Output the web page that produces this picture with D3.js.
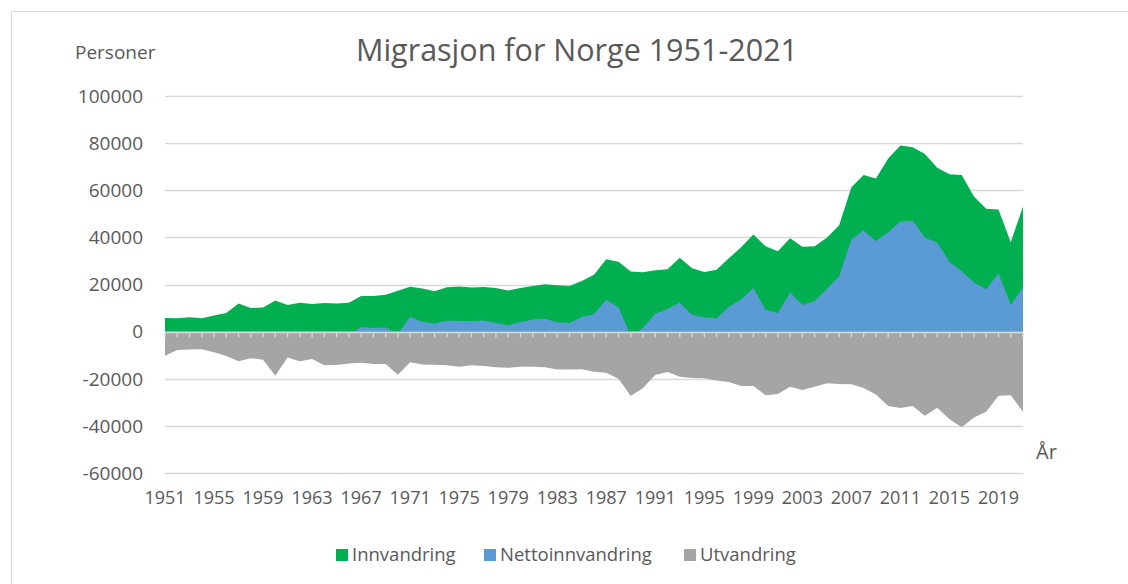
<!DOCTYPE html>
<html>
<head>
<meta charset="utf-8">
<script src="https://cdn.jsdelivr.net/npm/d3@7"></script>
<style>
  body { margin: 0; background: #fff; }
  svg { display: block; font-family: "Open Sans", sans-serif; }
</style>
</head>
<body>
<div id="chart"></div>
<script>
// Migrasjon for Norge 1951-2021

const years = d3.range(1951, 2022);

const innvandring = [
  5800, 5650, 6100, 5650, 6800, 7900, 11900, 10000, 10200, 13200,
  11300, 12300, 11700, 12200, 11900, 12300, 15100, 15100, 15600, 17300,
  19000, 18300, 17100, 18800, 19100, 18700, 18900, 18500, 17500, 18500,
  19400, 20100, 19700, 19400, 21500, 24100, 30700, 29700, 25500, 25200,
  26000, 26500, 31300, 26900, 25300, 26300, 31100, 35800, 41200, 36200,
  34100, 39600, 36000, 36200, 39800, 45100, 61300, 66500, 65000, 73500,
  79000, 78300, 75400, 69600, 66800, 66500, 57300, 52200, 51800, 37900,
  53100
];

const nettoinnvandring = [
  -4400, -2100, -1500, -1800, -2000, -2400, -700, -1300, -1700, -5500,
  300, -300, 100, -2100, -2300, -1200, 2000, 1500, 1700, -1000,
  6200, 4200, 3300, 4700, 4500, 4500, 4700, 3700, 2700, 4000,
  5100, 5500, 4000, 3700, 6200, 7400, 13500, 10200, -1800, 1600,
  7600, 9600, 12300, 7200, 6150, 5700, 10600, 13600, 18500, 9300,
  7900, 16600, 11300, 13000, 18100, 23500, 39200, 42900, 38500, 42200,
  46700, 47100, 39800, 37800, 29600, 25600, 20900, 18000, 24800, 11300,
  18800
];

const utvandring = [
  -10200, -7800, -7600, -7500, -8800, -10300, -12600, -11300, -11900, -18700,
  -11000, -12600, -11600, -14300, -14200, -13500, -13200, -13700, -13700, -18300,
  -13000, -14000, -14100, -14300, -14900, -14300, -14600, -15100, -15300, -14900,
  -14900, -15100, -16100, -16100, -16000, -17000, -17500, -20000, -27300, -23900,
  -18400, -17100, -19200, -19700, -19750, -20700, -21400, -23100, -23100, -27000,
  -26500, -23400, -24800, -23400, -21900, -22200, -22300, -23900, -26700, -31600,
  -32400, -31600, -35700, -32300, -37200, -40600, -36400, -34000, -27200, -27000,
  -34000
];

const yTicks = [-60000, -40000, -20000, 0, 20000, 40000, 60000, 80000, 100000];
const xLabelYears = d3.range(1951, 2022, 4);

const seriesNames = ['Innvandring', 'Nettoinnvandring', 'Utvandring'];
const seriesColors = ['#00b050', '#5b9bd5', '#a5a5a5'];

const W = 1128, H = 584;
const plot = { left: 165, right: 1023, top: 96, bottom: 473 };
const textColor = '#595959';
const gridColor = '#d9d9d9';

const svg = d3.select('#chart').append('svg')
  .attr('width', W)
  .attr('height', H);

// chart frame
svg.append('rect')
  .attr('x', 11.5).attr('y', 11.5)
  .attr('width', W).attr('height', H)
  .attr('fill', 'none')
  .attr('stroke', gridColor);

const x = d3.scaleLinear().domain([1951, 2021]).range([plot.left, plot.right]);
const y = d3.scaleLinear().domain([-60000, 100000]).range([plot.bottom, plot.top]);

// grid lines
svg.append('g')
  .selectAll('line')
  .data(yTicks.filter(d => d !== 0))
  .enter()
  .append('line')
  .attr('x1', plot.left).attr('x2', plot.right)
  .attr('y1', d => Math.round(y(d)) + 0.5)
  .attr('y2', d => Math.round(y(d)) + 0.5)
  .attr('stroke', gridColor)
  .attr('stroke-width', 1.3);

// overlapping areas, drawn in series order
const seriesData = [innvandring, nettoinnvandring, utvandring];
seriesData.forEach((vals, i) => {
  const area = d3.area()
    .x((d, j) => x(years[j]))
    .y0(y(0))
    .y1(d => y(d));
  svg.append('path')
    .datum(vals)
    .attr('d', area)
    .attr('fill', seriesColors[i]);
});

// zero axis with year ticks
const zeroY = Math.round(y(0)) + 0.5;
svg.append('line')
  .attr('x1', plot.left).attr('x2', plot.right)
  .attr('y1', zeroY).attr('y2', zeroY)
  .attr('stroke', gridColor)
  .attr('stroke-width', 1.3);

svg.append('g')
  .selectAll('line')
  .data(years)
  .enter()
  .append('line')
  .attr('x1', d => x(d)).attr('x2', d => x(d))
  .attr('y1', zeroY).attr('y2', zeroY + 5)
  .attr('stroke', gridColor)
  .attr('stroke-width', 1.3);

// y tick labels
svg.append('g')
  .selectAll('text')
  .data(yTicks)
  .enter()
  .append('text')
  .attr('x', 143)
  .attr('y', d => y(d))
  .attr('dy', '0.36em')
  .attr('text-anchor', 'end')
  .attr('font-size', '19px')
  .attr('fill', textColor)
  .text(d => d);

// x labels
svg.append('g')
  .selectAll('text')
  .data(xLabelYears)
  .enter()
  .append('text')
  .attr('x', d => x(d))
  .attr('y', 504)
  .attr('text-anchor', 'middle')
  .attr('font-size', '18px')
  .attr('fill', textColor)
  .text(d => d);

// titles
svg.append('text')
  .attr('x', 577).attr('y', 61)
  .attr('text-anchor', 'middle')
  .attr('font-size', '30.5px')
  .attr('fill', textColor)
  .text('Migrasjon for Norge 1951-2021');

svg.append('text')
  .attr('x', 75).attr('y', 59)
  .attr('font-size', '19px')
  .attr('fill', textColor)
  .text('Personer');

svg.append('text')
  .attr('x', 1036).attr('y', 459)
  .attr('font-size', '20px')
  .attr('fill', textColor)
  .text('År');

// legend
const legendX = [336, 484, 684];
const legend = svg.append('g')
  .selectAll('g')
  .data(seriesNames)
  .enter()
  .append('g')
  .attr('transform', (d, i) => `translate(${legendX[i]},549)`);

legend.append('rect')
  .attr('width', 12).attr('height', 12)
  .attr('fill', (d, i) => seriesColors[i]);

legend.append('text')
  .attr('x', 16).attr('y', 5)
  .attr('dy', '0.36em')
  .attr('font-size', '18.5px')
  .attr('fill', textColor)
  .text(d => d);
</script>
</body>
</html>
